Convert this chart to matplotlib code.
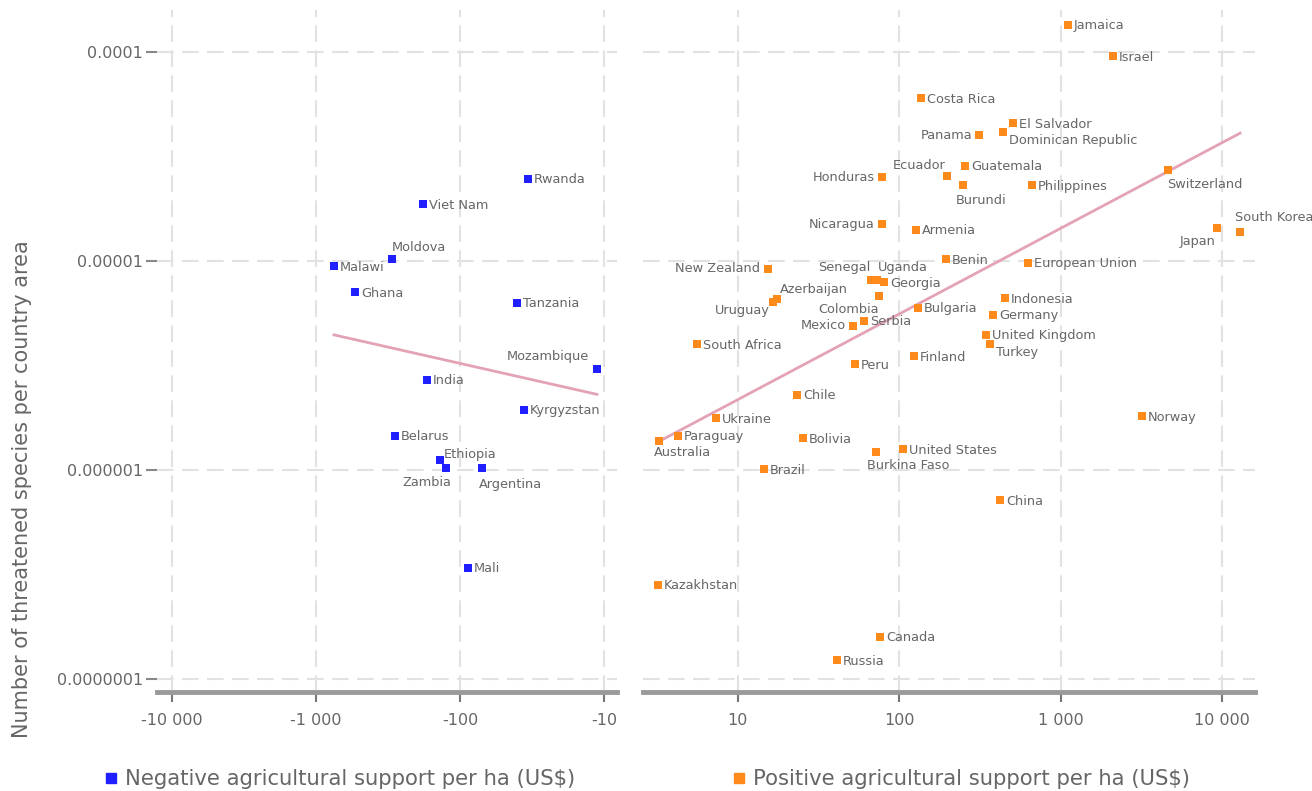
import numpy as np
import matplotlib
matplotlib.use("Agg")
import matplotlib.pyplot as plt
from matplotlib.ticker import FixedLocator, FuncFormatter, NullLocator
from matplotlib.lines import Line2D

# ---------------- data ----------------
neg_countries = ["Rwanda", "Viet Nam", "Moldova", "Malawi", "Ghana", "Tanzania", "Mozambique",
                 "India", "Kyrgyzstan", "Belarus", "Ethiopia", "Zambia", "Argentina", "Mali"]
neg_support = [-33.7, -181, -297, -750, -536, -40.2, -11.2,
               -169, -36, -282, -138, -125, -70, -88]
neg_species = [2.47e-5, 1.87e-5, 1.02e-5, 9.46e-6, 7.1e-6, 6.3e-6, 3.04e-6,
               2.7e-6, 1.94e-6, 1.46e-6, 1.12e-6, 1.02e-6, 1.02e-6, 3.4e-7]

pos_countries = ["Jamaica", "Israel", "Costa Rica", "El Salvador", "Panama", "Dominican Republic",
                 "Guatemala", "Ecuador", "Honduras", "Burundi", "Philippines", "Switzerland",
                 "South Korea", "Japan", "Nicaragua", "Armenia", "Benin", "European Union",
                 "New Zealand", "Senegal", "Uganda", "Georgia", "Azerbaijan", "Uruguay",
                 "Colombia", "Bulgaria", "Indonesia", "Mexico", "Serbia", "Germany",
                 "United Kingdom", "Turkey", "South Africa", "Finland", "Peru", "Chile",
                 "Ukraine", "Norway", "Paraguay", "Australia", "Bolivia", "United States",
                 "Burkina Faso", "Brazil", "China", "Kazakhstan", "Canada", "Russia"]
pos_support = [1112, 2113, 136, 507, 312, 440,
               255, 198, 78, 248, 665, 4634,
               12940, 9330, 78, 127, 195, 628,
               15.3, 66.8, 72.8, 80.3, 17.5, 16.5,
               74.8, 131, 452, 51.6, 60.4, 381,
               345, 365, 5.57, 123, 53, 23.2,
               7.31, 3199, 4.25, 3.24, 25.3, 105,
               71.8, 14.5, 421, 3.19, 75.9, 41.1]
pos_species = [1.35e-4, 9.57e-5, 6.0e-5, 4.57e-5, 4.0e-5, 4.14e-5,
               2.85e-5, 2.55e-5, 2.52e-5, 2.31e-5, 2.31e-5, 2.72e-5,
               1.38e-5, 1.44e-5, 1.50e-5, 1.41e-5, 1.02e-5, 9.8e-6,
               9.16e-6, 8.1e-6, 8.1e-6, 7.9e-6, 6.6e-6, 6.37e-6,
               6.8e-6, 5.96e-6, 6.65e-6, 4.89e-6, 5.17e-6, 5.52e-6,
               4.43e-6, 4.0e-6, 4.0e-6, 3.51e-6, 3.21e-6, 2.29e-6,
               1.77e-6, 1.81e-6, 1.46e-6, 1.38e-6, 1.42e-6, 1.26e-6,
               1.22e-6, 1.01e-6, 7.18e-7, 2.82e-7, 1.59e-7, 1.23e-7]

neg_ticks = [-10000, -1000, -100, -10]
pos_ticks = [10, 100, 1000, 10000]
y_ticks = [1e-4, 1e-5, 1e-6, 1e-7]

neg_legend = "Negative agricultural support per ha (US$)"
pos_legend = "Positive agricultural support per ha (US$)"
y_title = "Number of threatened species per country area"

# ---------------- label placement (style) ----------------
# (dx, dy in pixels, ha)
label_pos = {
    "Moldova": (0, 12, "left"), "Mozambique": (-8, 13, "right"), "Ethiopia": (4, 5, "left"),
    "Zambia": (5, -14, "right"), "Argentina": (-3, -16, "left"),
    "Panama": (-7, 0, "right"), "Dominican Republic": (6, -8, "left"),
    "Ecuador": (-2, 11, "right"), "Honduras": (-7, 0, "right"), "Nicaragua": (-7, 0, "right"),
    "Burundi": (-7, -15, "left"), "Switzerland": (-1, -14, "left"),
    "South Korea": (-5, 14, "left"), "Japan": (-2, -14, "right"),
    "New Zealand": (-8, 0, "right"), "Senegal": (-1, 13, "right"), "Uganda": (1, 13, "left"),
    "Azerbaijan": (3, 9, "left"), "Uruguay": (-3, -9, "right"), "Colombia": (0, -13, "right"),
    "Mexico": (-7, 0, "right"), "Turkey": (6, -8, "left"), "Australia": (-5, -12, "left"),
    "Burkina Faso": (-9, -14, "left"),
}

W, H = 1312, 791
fig = plt.figure(figsize=(W / 100, H / 100), dpi=100)
fig.patch.set_facecolor("white")

top_px, bot_px = 10, 692
axL = fig.add_axes([157 / W, 1 - bot_px / H, (617 - 157) / W, (bot_px - top_px) / H])
axR = fig.add_axes([643 / W, 1 - bot_px / H, (1255 - 643) / W, (bot_px - top_px) / H])

BLUE = "#1f1fff"
ORANGE = "#ff8a1c"
TREND = "#e3a3b5"
TXT = "#666666"
GRID = "#e2e2e2"

ylim = (10 ** -7.062, 10 ** -3.799)


def fmt_y(v, pos):
    n = int(round(-np.log10(v)))
    return f"{v:.{n}f}"


def fmt_thousands(v):
    s = f"{abs(int(round(v))):,}".replace(",", " ")
    return ("-" if v < 0 else "") + s


for ax in (axL, axR):
    ax.set_xscale("log")
    ax.set_yscale("log")
    ax.set_ylim(*ylim)
    for s in ("top", "right", "left"):
        ax.spines[s].set_visible(False)
    ax.spines["bottom"].set_color("#9a9a9a")
    ax.spines["bottom"].set_linewidth(3.5)
    ax.yaxis.set_major_locator(FixedLocator(y_ticks))
    ax.yaxis.set_minor_locator(NullLocator())
    ax.xaxis.set_minor_locator(NullLocator())
    ax.grid(True, which="major", color=GRID, linestyle=(0, (8, 4)), linewidth=1.5)
    ax.set_axisbelow(True)
    ax.tick_params(axis="x", direction="out", length=7, width=1.5, color="#777777",
                   labelsize=11.5, labelcolor=TXT, pad=8)

# left axis: absolute values on inverted log axis
axL.set_xlim(12710, 8.13)
axL.xaxis.set_major_locator(FixedLocator([abs(t) for t in neg_ticks]))
axL.xaxis.set_major_formatter(FuncFormatter(lambda v, p: fmt_thousands(-v)))
axL.yaxis.set_major_formatter(FuncFormatter(fmt_y))
axL.tick_params(axis="y", direction="out", length=8, width=1.5, color="#888888",
                labelsize=11.5, labelcolor=TXT, pad=2)

axR.set_xlim(2.58, 16030)
axR.xaxis.set_major_locator(FixedLocator(pos_ticks))
axR.xaxis.set_major_formatter(FuncFormatter(lambda v, p: fmt_thousands(v)))
axR.tick_params(axis="y", left=False, labelleft=False)

# scatter
nx = np.abs(np.array(neg_support, dtype=float))
ny = np.array(neg_species, dtype=float)
px = np.array(pos_support, dtype=float)
py = np.array(pos_species, dtype=float)

axL.scatter(nx, ny, marker="s", s=27, color=BLUE, linewidths=0, zorder=3)
axR.scatter(px, py, marker="s", s=27, color=ORANGE, linewidths=0, zorder=3)

# trend lines (OLS in log-log space)
for ax, xs, ys in ((axL, nx, ny), (axR, px, py)):
    b, a = np.polyfit(np.log10(xs), np.log10(ys), 1)
    xl = np.array([xs.min(), xs.max()])
    ax.plot(xl, 10 ** (a + b * np.log10(xl)), color=TREND, lw=2, zorder=2)

# labels
for ax, names, xs, ys in ((axL, neg_countries, nx, ny), (axR, pos_countries, px, py)):
    for name, x, y in zip(names, xs, ys):
        dx, dy, ha = label_pos.get(name, (6, -1, "left"))
        ax.annotate(name, (x, y), xytext=(dx, dy), textcoords="offset pixels",
                    ha=ha, va="center", fontsize=9.3, color=TXT, zorder=4)

# y title
fig.text(22 / W, 1 - 489 / H, y_title, rotation=90, ha="center", va="center",
         fontsize=15, color=TXT)

# legends
hL = Line2D([], [], marker="s", linestyle="none", color=BLUE, markersize=6.5)
hR = Line2D([], [], marker="s", linestyle="none", color=ORANGE, markersize=6.5)
for h, lab, xpx in ((hL, neg_legend, 94), (hR, pos_legend, 722)):
    lg = fig.legend(handles=[h], labels=[lab], loc="center left",
                    bbox_to_anchor=(xpx / W, 1 - 779 / H), frameon=False,
                    handlelength=0.6, handletextpad=0.35, borderpad=0, fontsize=15.2)
    for t in lg.get_texts():
        t.set_color(TXT)

fig.savefig("out.png", dpi=100, facecolor="white")
